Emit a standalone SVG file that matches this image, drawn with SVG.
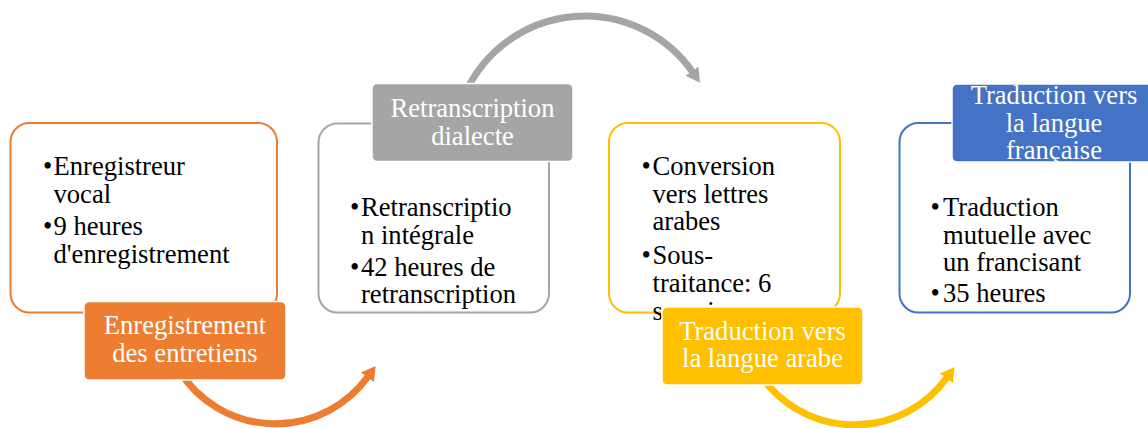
<svg xmlns="http://www.w3.org/2000/svg" width="1148" height="428" viewBox="0 0 1148 428">
<defs>
<style>
.body{font-family:"Liberation Serif","Times New Roman",serif;font-size:26.6px;fill:#000}
.lbl{font-family:"Liberation Serif","Times New Roman",serif;font-size:26.6px;fill:#fff;text-anchor:middle}
.box{fill:#fff;stroke-width:2}
.tag{stroke:#fff;stroke-width:1.5}
.arc{fill:none;stroke-width:7}
</style>
<marker id="mo" markerUnits="userSpaceOnUse" viewBox="0 0 14 16" markerWidth="14" markerHeight="16" refX="1" refY="8" orient="auto"><path d="M0,0 L14,8 L0,16 z" fill="#ED7D31"/></marker>
<marker id="mg" markerUnits="userSpaceOnUse" viewBox="0 0 14 16" markerWidth="14" markerHeight="16" refX="1" refY="8" orient="auto"><path d="M0,0 L14,8 L0,16 z" fill="#A5A5A5"/></marker>
<marker id="my" markerUnits="userSpaceOnUse" viewBox="0 0 14 16" markerWidth="14" markerHeight="16" refX="1" refY="8" orient="auto"><path d="M0,0 L14,8 L0,16 z" fill="#FFC000"/></marker>
</defs>
<rect width="1148" height="428" fill="#fff"/>
<g id="connectors">
<path class="arc" stroke="#ED7D31" d="M180,372 A114,114 0 0 0 368,376.5" marker-end="url(#mo)"/>
<path class="arc" stroke="#A5A5A5" d="M466.8,90 A131.3,131.3 0 0 1 692.5,72" marker-end="url(#mg)"/>
<path class="arc" stroke="#FFC000" d="M759,373 A114,114 0 0 0 947,377.5" marker-end="url(#my)"/>
</g>
<g id="node1">
<rect class="box" x="10.5" y="123" width="266.5" height="189.5" rx="19" stroke="#ED7D31"/>
<text class="body"><tspan x="43" y="175">•</tspan><tspan x="53.5" y="175">Enregistreur</tspan><tspan x="53.5" y="202.5">vocal</tspan><tspan x="43" y="235">•</tspan><tspan x="53.5" y="235">9 heures</tspan><tspan x="53.5" y="262.5">d'enregistrement</tspan></text>
<rect class="tag" x="84" y="301.5" width="202" height="78.5" rx="5" fill="#ED7D31"/>
<text class="lbl"><tspan x="185" y="334">Enregistrement</tspan><tspan x="185" y="361.5">des entretiens</tspan></text>
</g>
<g id="node2">
<rect class="box" x="318.5" y="123.5" width="230.5" height="189" rx="19" stroke="#A5A5A5"/>
<text class="body"><tspan x="350" y="216">•</tspan><tspan x="361" y="216">Retranscriptio</tspan><tspan x="361" y="243.5">n intégrale</tspan><tspan x="350" y="275.5">•</tspan><tspan x="361" y="275.5">42 heures de</tspan><tspan x="361" y="303">retranscription</tspan></text>
<rect class="tag" x="372" y="83.5" width="201" height="78" rx="5" fill="#A5A5A5"/>
<text class="lbl"><tspan x="472.5" y="116.5">Retranscription</tspan><tspan x="472.5" y="144.5">dialecte</tspan></text>
</g>
<g id="node3">
<rect class="box" x="609" y="123" width="231" height="189.5" rx="19" stroke="#FFC000"/>
<text class="body"><tspan x="641.5" y="175">•</tspan><tspan x="652.5" y="175">Conversion</tspan><tspan x="652.5" y="202.5">vers lettres</tspan><tspan x="652.5" y="230">arabes</tspan><tspan x="641.5" y="264">•</tspan><tspan x="652.5" y="264">Sous-</tspan><tspan x="652.5" y="291.5">traitance: 6</tspan><tspan x="652.5" y="320">semaines</tspan></text>
<rect class="tag" x="662" y="307" width="201" height="78" rx="5" fill="#FFC000"/>
<text class="lbl"><tspan x="762.5" y="340">Traduction vers</tspan><tspan x="762.5" y="367">la langue arabe</tspan></text>
</g>
<g id="node4">
<rect class="box" x="899.5" y="123" width="230.5" height="189.5" rx="19" stroke="#4472C4"/>
<text class="body"><tspan x="930.5" y="216">•</tspan><tspan x="943" y="216">Traduction</tspan><tspan x="943" y="243.5">mutuelle avec</tspan><tspan x="943" y="271">un francisant</tspan><tspan x="930.5" y="302">•</tspan><tspan x="943" y="302">35 heures</tspan></text>
<rect class="tag" x="952" y="84" width="202" height="78" rx="5" fill="#4472C4"/>
<text class="lbl"><tspan x="1054" y="103.5">Traduction vers</tspan><tspan x="1054" y="131.5">la langue</tspan><tspan x="1054" y="158.5">française</tspan></text>
</g>
</svg>
